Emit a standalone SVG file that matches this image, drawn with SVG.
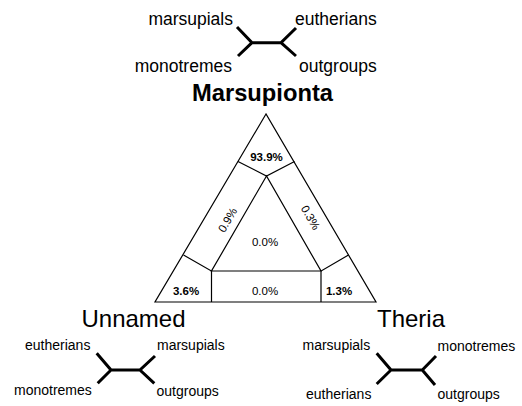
<svg xmlns="http://www.w3.org/2000/svg" width="522" height="406" viewBox="0 0 522 406">
<style>
  .tree { stroke:#000; stroke-width:3; fill:none; stroke-linecap:butt; }
  .edge { stroke:#000; stroke-width:1.2; fill:none; stroke-linejoin:miter; }
  .lbl { font-family:"Liberation Sans", Arial, sans-serif; fill:#000; }
  .big { font-size:17.5px; }
  .sm { font-size:14px; }
  .pct { font-size:11.5px; text-anchor:middle; }
  .b { font-weight:bold; }
  .title { font-size:24px; text-anchor:middle; }
</style>
<rect width="522" height="406" fill="#fff"/>

<g id="tree-top">
  <path class="tree" d="M237,27 L252,42.7 L238,56 M252,42.7 L281,42.7 M296,28 L281,42.7 L296,56"/>
  <text class="lbl big" x="233" y="25" text-anchor="end">marsupials</text>
  <text class="lbl big" x="295" y="25">eutherians</text>
  <text class="lbl big" x="232" y="72" text-anchor="end">monotremes</text>
  <text class="lbl big" x="299" y="72">outgroups</text>
</g>

<g id="label-marsupionta">
  <text class="lbl title b" x="262.5" y="101" font-size="22" textLength="141" lengthAdjust="spacingAndGlyphs">Marsupionta</text>
</g>

<g id="connectors">
  <path class="edge" d="M266,114 L155,302 L376,302 Z"/>
  <path class="edge" d="M266.5,176 L211.5,271 L321,271 Z"/>
  <path class="edge" d="M238,161.5 L266.5,176 L294.5,161.5"/>
  <path class="edge" d="M183.5,255 L211.5,271 L211.5,302"/>
  <path class="edge" d="M348.5,255 L321,271 L321,302"/>
</g>

<g id="region-top"><text class="lbl pct b" x="266.5" y="161">93.9%</text></g>
<g id="region-left-band"><text class="lbl pct" transform="translate(227.5,220) rotate(-60)" y="4">0.9%</text></g>
<g id="region-right-band"><text class="lbl pct" transform="translate(310.5,217.5) rotate(60)" y="4">0.3%</text></g>
<g id="region-center"><text class="lbl pct" x="265" y="246">0.0%</text></g>
<g id="region-bottom"><text class="lbl pct" x="265" y="295">0.0%</text></g>
<g id="region-left"><text class="lbl pct b" x="186" y="295">3.6%</text></g>
<g id="region-right"><text class="lbl pct b" x="339" y="295">1.3%</text></g>

<g id="label-unnamed"><text class="lbl title" x="133.5" y="327">Unnamed</text></g>
<g id="label-theria"><text class="lbl title" x="411" y="327">Theria</text></g>

<g id="tree-left">
  <path class="tree" d="M96.7,353.3 L111,370 L97.7,383.3 M111,370 L140,370 M155,356 L140,370 L154.3,383.3"/>
  <text class="lbl sm" x="25" y="349.5">eutherians</text>
  <text class="lbl sm" x="157" y="350">marsupials</text>
  <text class="lbl sm" x="14" y="395">monotremes</text>
  <text class="lbl sm" x="156.5" y="396">outgroups</text>
</g>

<g id="tree-right">
  <path class="tree" d="M376.7,353.3 L391,370 L376.7,384 M391,370 L422.3,370 M436,356 L422.3,370 L435,385"/>
  <text class="lbl sm" x="302.5" y="350">marsupials</text>
  <text class="lbl sm" x="437.5" y="351">monotremes</text>
  <text class="lbl sm" x="306" y="398.5">eutherians</text>
  <text class="lbl sm" x="437.5" y="398.5">outgroups</text>
</g>
</svg>
